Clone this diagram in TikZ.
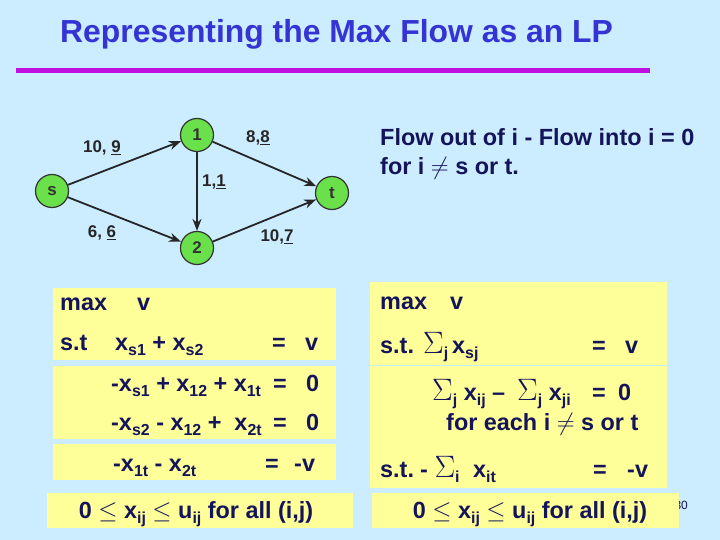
\documentclass[tikz,border=0pt]{standalone}
\usepackage{fontspec}
\setmainfont{Liberation Sans}
\usetikzlibrary{arrows.meta}

\definecolor{slidebg}{HTML}{CCECFF}
\definecolor{titleblue}{HTML}{3434D4}
\definecolor{rulemag}{HTML}{C010E0}
\definecolor{boxyellow}{HTML}{FFFF99}
\definecolor{lpnavy}{HTML}{14145A}
\definecolor{vertgreen}{HTML}{6AE04A}

\newcommand{\lpsub}[1]{\raisebox{-0.45ex}{\fontsize{16}{16}\selectfont #1}}
\newcommand{\lpsum}{\scalebox{1.25}{$\Sigma$}}

\begin{document}
\begin{tikzpicture}[x=1bp,y=-1bp,
  lptext/.style={anchor=base west,inner sep=0pt,text=lpnavy,font=\fontsize{23.5}{27}\selectfont\bfseries},
  vertex/.style={circle,draw=black!80,line width=1.2bp,fill=vertgreen,minimum size=33bp,inner sep=0pt,
    text=black!80,font=\fontsize{17}{20}\selectfont\bfseries},
  flow/.style={-{Stealth[length=12bp,width=9bp]},line width=1.8bp,draw=black!85},
  caplabel/.style={inner sep=0pt,text=black!85,font=\fontsize{17}{20}\selectfont\bfseries}]
  \fill[slidebg] (0,0) rectangle (720,540);
  \useasboundingbox (0,0) rectangle (720,540);

  % title
  \node[anchor=base west,inner sep=0pt,text=titleblue,font=\fontsize{32}{36}\selectfont\bfseries]
    (title) at (60,43) {Representing the Max Flow as an LP};
  \fill[rulemag] (16,68.5) rectangle (650,73.5);

  % network
  \node[vertex] (s) at (52,191) {s};
  \node[vertex] (n1) at (197,135) {1};
  \node[vertex] (t) at (332,193) {t};
  \node[vertex] (n2) at (197,248) {2};
  \foreach \a/\b in {s/n1,s/n2,n1/t,n1/n2,n2/t}
    \draw[flow] (\a) -- (\b);
  \node[caplabel] (c1) at (102,148) {10, \underline{9}};
  \node[caplabel] (c2) at (258,138) {8,\underline{8}};
  \node[caplabel] (c3) at (214,182) {1,\underline{1}};
  \node[caplabel] (c4) at (102,233) {6, \underline{6}};
  \node[caplabel] (c5) at (277,237) {10,\underline{7}};

  \node[lptext] (rule1) at (380,146) {Flow out of i - Flow into i = 0};
  \node[lptext] (rule2) at (380,175) {for i $\neq$ s or t.};

  % page number, half hidden
  \node[anchor=base east,inner sep=0pt,text=lpnavy,font=\fontsize{12}{14}\selectfont\rmfamily] (pg) at (688,509) {30};

  % boxes
  \fill[boxyellow] (53,288) rectangle (336,360);
  \fill[boxyellow] (53,366) rectangle (336,439);
  \fill[boxyellow] (53,444) rectangle (336,480);
  \fill[boxyellow] (47,493) rectangle (353,528);
  \fill[boxyellow] (370,282) rectangle (667,364.5);
  \fill[boxyellow] (370,366) rectangle (667,488);
  \fill[boxyellow] (372,493) rectangle (679,528);

  % small LP
  \node[lptext] (lmax) at (60,310) {max};
  \node[lptext] (lv) at (137,310) {v};
  \node[lptext] (lst) at (60,350) {s.t};
  \node[lptext] (lr1) at (115,350) {x\lpsub{s1} + x\lpsub{s2}};
  \node[lptext] (lr1e) at (272,350) {=};
  \node[lptext] (lr1v) at (305,350) {v};
  \node[lptext] (lr2) at (111,391) {-x\lpsub{s1} + x\lpsub{12} + x\lpsub{1t}};
  \node[lptext] (lr2e) at (273,391) {=};
  \node[lptext] (lr2v) at (306,391) {0};
  \node[lptext] (lr3) at (111,430) {-x\lpsub{s2} - x\lpsub{12} + \ x\lpsub{2t}};
  \node[lptext] (lr3e) at (273,430) {=};
  \node[lptext] (lr3v) at (306,430) {0};
  \node[lptext] (lr4) at (113,471) {-x\lpsub{1t} - x\lpsub{2t}};
  \node[lptext] (lr4e) at (265,471) {=};
  \node[lptext] (lr4v) at (294,471) {-v};
  \node[lptext,anchor=base] (lbnd) at (196,518) {0 $\leq$ x\lpsub{ij} $\leq$ u\lpsub{ij} for all (i,j)};

  % general LP
  \node[lptext] (gmax) at (380,309) {max};
  \node[lptext] (gv) at (450,309) {v};
  \node[lptext] (gst) at (380,353) {s.t.};
  \node[lptext] (gsum1) at (423,353) {\lpsum\lpsub{j}};
  \node[lptext] (gx1) at (452,353) {x\lpsub{sj}};
  \node[lptext] (ge1) at (592,353) {=};
  \node[lptext] (gv1) at (625,353) {v};
  \node[lptext] (gsum2) at (432,400) {\lpsum\lpsub{j} x\lpsub{ij} --};
  \node[lptext] (gsum3) at (517,400) {\lpsum\lpsub{j} x\lpsub{ji}};
  \node[lptext] (ge2) at (592,400) {=};
  \node[lptext] (gv2) at (618,400) {0};
  \node[lptext] (geach) at (446,430) {for each i $\neq$ s or t};
  \node[lptext] (gst2) at (380,477) {s.t.};
  \node[lptext] (gsum4) at (420,477) {- \lpsum\lpsub{i}};
  \node[lptext] (gx4) at (473,477) {x\lpsub{it}};
  \node[lptext] (ge4) at (593,477) {=};
  \node[lptext] (gv4) at (627,477) {-v};
  \node[lptext,anchor=base] (gbnd) at (530,518) {0 $\leq$ x\lpsub{ij} $\leq$ u\lpsub{ij} for all (i,j)};
\end{tikzpicture}
\end{document}
